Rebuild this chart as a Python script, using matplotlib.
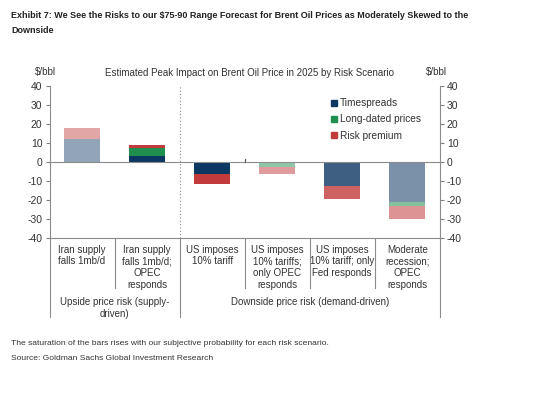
import matplotlib.pyplot as plt
import matplotlib.lines as mlines
import numpy as np

plt.rcParams['font.family'] = ['Liberation Sans', 'DejaVu Sans']

# data
scenarios = ['Iran supply\nfalls 1mb/d',
             'Iran supply\nfalls 1mb/d;\nOPEC\nresponds',
             'US imposes\n10% tariff',
             'US imposes\n10% tariffs;\nonly OPEC\nresponds',
             'US imposes\n10% tariff; only\nFed responds',
             'Moderate\nrecession;\nOPEC\nresponds']
timespreads = [12, 3, -6.5, 0, -12.5, -21]
long_dated = [0, 4, 0, -3, 0, -2.5]
risk_premium = [6, 2, -5, -3.5, -7, -6.5]
probability = [0.45, 1.0, 1.0, 0.5, 0.8, 0.55]
yticks = [40, 30, 20, 10, 0, -10, -20, -30, -40]

colors = {'Timespreads': '#0d3763', 'Long-dated prices': '#1f8f50', 'Risk premium': '#c23b3b'}
series = {'Timespreads': timespreads, 'Long-dated prices': long_dated, 'Risk premium': risk_premium}

fig = plt.figure(figsize=(5.6, 3.97), dpi=100)
ax = fig.add_axes([0.0884, 0.401, 0.697, 0.383])

x = np.arange(len(scenarios))
pos_base = np.zeros(len(x))
neg_base = np.zeros(len(x))
for name, vals in series.items():
    vals = np.array(vals, dtype=float)
    for i, v in enumerate(vals):
        if v == 0:
            continue
        base = pos_base[i] if v > 0 else neg_base[i]
        ax.bar(x[i], v, bottom=base, width=0.55, color=colors[name],
               alpha=probability[i], linewidth=0, zorder=3)
        if v > 0:
            pos_base[i] += v
        else:
            neg_base[i] += v

ax.set_xlim(-0.5, 5.5)
ax.set_ylim(-40, 40)
ax.set_yticks(yticks)
ax.set_yticklabels([str(t) for t in yticks])
ax.set_xticks([])
ax.tick_params(axis='y', labelsize=7.5, color='#7f7f7f', length=3,
               labelright=True, right=True, labelcolor='#333333', pad=2)
ax.spines['top'].set_visible(False)
for s in ['left', 'right', 'bottom']:
    ax.spines[s].set_color('#8c8c8c')
    ax.spines[s].set_linewidth(0.8)
ax.axhline(0, color='#8c8c8c', linewidth=0.8, zorder=4)
ax.axvline(1.5, color='#8a8a8a', linewidth=0.8, linestyle=(0, (1, 2)), zorder=1)
ax.plot([2.5, 2.5], [0, 1.2], color='#555555', linewidth=0.8, zorder=4)

# category separators below the axis
trans = ax.get_xaxis_transform()
for b in [0.5, 2.5, 3.5, 4.5]:
    ax.add_line(mlines.Line2D([b, b], [0, -0.33], transform=trans, color='#8c8c8c',
                              linewidth=0.8, clip_on=False))
for b in [-0.5, 1.5, 5.5]:
    ax.add_line(mlines.Line2D([b, b], [0, -0.52], transform=trans, color='#8c8c8c',
                              linewidth=0.8, clip_on=False))

for i, lab in enumerate(scenarios):
    ax.text(x[i], -0.045, lab, transform=trans, ha='center', va='top',
            fontsize=7, color='#333333', linespacing=1.22)
ax.text(0.5, -0.39, 'Upside price risk (supply-\ndriven)', transform=trans,
        ha='center', va='top', fontsize=7, color='#333333', linespacing=1.22)
ax.text(3.5, -0.39, 'Downside price risk (demand-driven)', transform=trans,
        ha='center', va='top', fontsize=7, color='#333333')

# legend
handles = [mlines.Line2D([], [], marker='s', linestyle='none', markersize=4,
                         color=c, label=n) for n, c in colors.items()]
ax.legend(handles=handles, loc='upper left', bbox_to_anchor=(0.71, 0.945),
          frameon=False, fontsize=7.3, handlelength=0.6, handletextpad=0.3,
          labelspacing=0.62, labelcolor='#333333', borderaxespad=0)

fig.text(0.063, 0.805, '$/bbl', fontsize=7, color='#333333', ha='left', va='bottom')
fig.text(0.76, 0.805, '$/bbl', fontsize=7, color='#333333', ha='left', va='bottom')
fig.text(0.445, 0.803, 'Estimated Peak Impact on Brent Oil Price in 2025 by Risk Scenario',
         fontsize=7, color='#333333', ha='center', va='bottom')

fig.text(0.02, 0.972,
         'Exhibit 7: We See the Risks to our $75-90 Range Forecast for Brent Oil Prices as Moderately Skewed to the\nDownside',
         fontsize=6.5, fontweight='bold', color='#222222', ha='left', va='top', linespacing=1.85)
fig.text(0.02, 0.136, 'The saturation of the bars rises with our subjective probability for each risk scenario.',
         fontsize=6.1, color='#333333', ha='left', va='center')
fig.text(0.02, 0.096, 'Source: Goldman Sachs Global Investment Research',
         fontsize=6.1, color='#333333', ha='left', va='center')

fig.savefig('out.png', dpi=100, facecolor='white')
plt.close(fig)
